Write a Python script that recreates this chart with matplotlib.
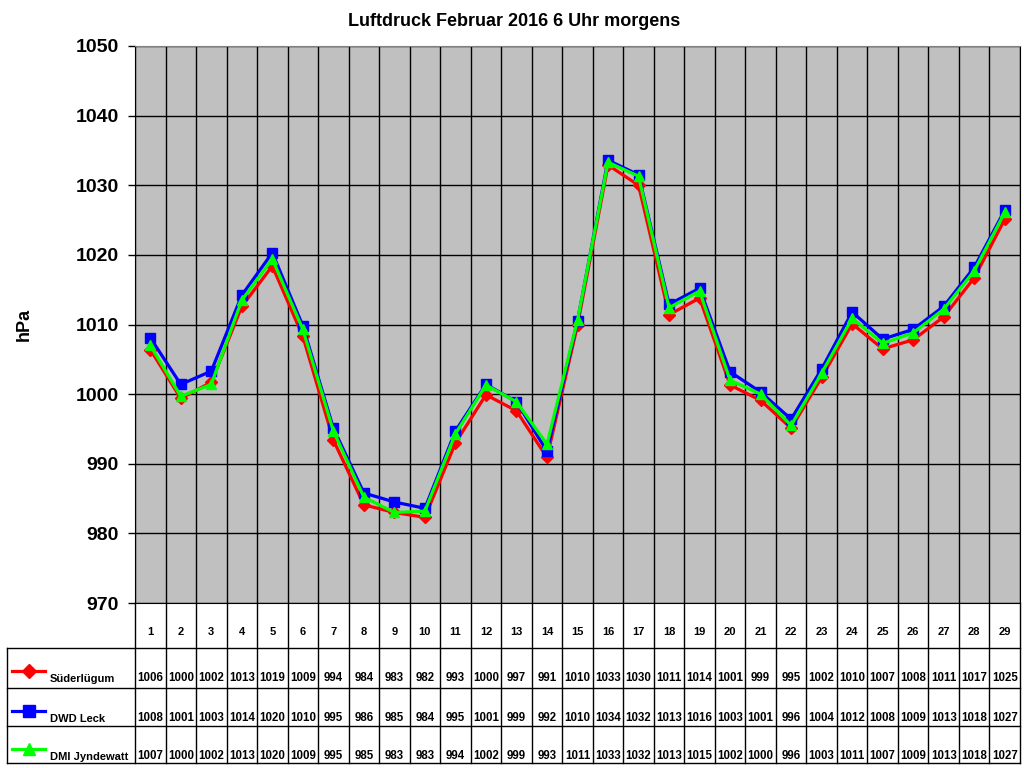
import matplotlib.pyplot as plt
from matplotlib.lines import Line2D

plt.rcParams['font.family'] = ['Liberation Sans', 'DejaVu Sans']
plt.rcParams['font.weight'] = 'bold'

days = list(range(1, 30))

# plotted values
sued = [1006.4, 999.4, 1001.7, 1012.6, 1018.4, 1008.3, 993.4, 984.1, 983.0, 982.3,
        993.0, 999.9, 997.6, 990.9, 1009.9, 1032.9, 1030.0, 1011.4, 1013.8, 1001.3,
        999.1, 995.1, 1002.4, 1010.1, 1006.5, 1007.8, 1011.1, 1016.7, 1025.1]
leck = [1008.1, 1001.4, 1003.3, 1014.2, 1020.3, 1009.8, 995.1, 985.8, 984.5, 983.6,
        994.7, 1001.4, 998.9, 991.8, 1010.5, 1033.6, 1031.5, 1012.9, 1015.2, 1003.2,
        1000.3, 996.4, 1003.6, 1011.8, 1007.9, 1009.3, 1012.6, 1018.2, 1026.4]
dmi = [1007.0, 999.7, 1001.4, 1013.5, 1019.4, 1009.3, 994.7, 985.2, 983.0, 983.2,
       994.3, 1001.3, 998.9, 992.8, 1010.6, 1033.3, 1031.3, 1012.4, 1014.8, 1002.0,
       1000.0, 995.5, 1003.0, 1010.9, 1007.3, 1008.8, 1012.2, 1017.7, 1026.1]

# values printed in the data table
sued_tab = [1006, 1000, 1002, 1013, 1019, 1009, 994, 984, 983, 982, 993, 1000, 997, 991, 1010,
            1033, 1030, 1011, 1014, 1001, 999, 995, 1002, 1010, 1007, 1008, 1011, 1017, 1025]
leck_tab = [1008, 1001, 1003, 1014, 1020, 1010, 995, 986, 985, 984, 995, 1001, 999, 992, 1010,
            1034, 1032, 1013, 1016, 1003, 1001, 996, 1004, 1012, 1008, 1009, 1013, 1018, 1027]
dmi_tab = [1007, 1000, 1002, 1013, 1020, 1009, 995, 985, 983, 983, 994, 1002, 999, 993, 1011,
           1033, 1032, 1013, 1015, 1002, 1000, 996, 1003, 1011, 1007, 1009, 1013, 1018, 1027]

names = ['Süderlügum', 'DWD Leck', 'DMI Jyndewatt']
colors = ['#FF0000', '#0000FF', '#00FF00']
markers = ['D', 's', '^']
msizes = [6, 7, 7]

W, H = 1024, 768
fig = plt.figure(figsize=(W / 100, H / 100), dpi=100)
ax = fig.add_axes([135 / W, 1 - 603 / H, 885 / W, 557 / H])
ax.set_facecolor('#C0C0C0')

x = list(range(len(days)))
for vals, c, m, ms in zip([sued, leck, dmi], colors, markers, msizes):
    ax.plot(x, vals, color=c, lw=2.3, marker=m, ms=ms, zorder=3)

ax.set_xlim(-0.5, len(days) - 0.5)
ax.set_ylim(970, 1050)
ax.set_yticks(range(970, 1051, 10))
ax.set_xticks([i - 0.5 for i in range(len(days) + 1)])
ax.set_xticklabels([])
ax.tick_params(axis='x', length=0)
ax.tick_params(axis='y', labelsize=14, length=5, width=1, direction='out', pad=6.5)
for lab in ax.get_yticklabels():
    lab.set_fontweight('bold')
ax.grid(True, color='black', lw=1)
for s in ax.spines.values():
    s.set_color('black')
ax.spines['top'].set_color('#808080')
ax.set_ylabel('hPa', fontsize=13, fontweight='bold', labelpad=31)

fig.text(514 / W, 1 - 21 / H, 'Luftdruck Februar 2016 6 Uhr morgens',
         ha='center', va='center', fontsize=13, fontweight='bold')

# table below the plot
def fx(px):
    return px / W

def fy(py):
    return 1 - py / H

x0, x1 = 135, 1020
cw = (x1 - x0) / len(days)
row_lines = [648, 688, 726, 763]

# vertical column lines through the table
for i in range(len(days) + 1):
    xx = x0 + i * cw
    fig.add_artist(Line2D([fx(xx), fx(xx)], [fy(603), fy(763)], color='black', lw=1))
# left border of data rows
fig.add_artist(Line2D([fx(7), fx(7)], [fy(648), fy(763)], color='black', lw=1))
for ry in row_lines:
    fig.add_artist(Line2D([fx(7), fx(x1)], [fy(ry), fy(ry)], color='black', lw=1))

for i, d in enumerate(days):
    fig.text(fx(x0 + (i + 0.5) * cw), fy(632), str(d), ha='center', va='center',
             fontsize=8, fontweight='bold')

for r, (tab, nm, c, m, ms) in enumerate(zip([sued_tab, leck_tab, dmi_tab], names, colors, markers, msizes)):
    top = row_lines[r]
    ly = top + 23
    fig.add_artist(Line2D([fx(12), fx(45)], [fy(ly), fy(ly)], color=c, lw=2.3))
    fig.add_artist(Line2D([fx(28.5)], [fy(ly)], color=c, marker=m, ms=ms + 1, lw=0))
    fig.text(fx(50), fy(top + 31), nm, ha='left', va='center', fontsize=8, fontweight='bold')
    for i, v in enumerate(tab):
        fig.text(fx(x0 + (i + 0.5) * cw), fy(top + 30), str(v), ha='center', va='center',
                 fontsize=8.3, fontweight='bold')

fig.savefig('out.png', dpi=100)
